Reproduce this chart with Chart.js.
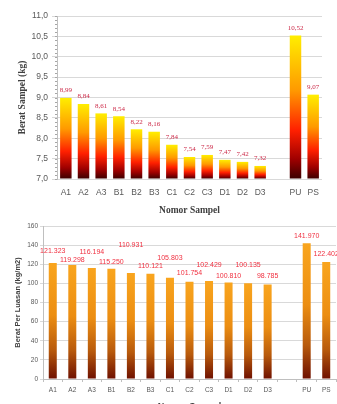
<!DOCTYPE html>
<html>
<head>
<meta charset="utf-8">
<script src="https://cdn.jsdelivr.net/npm/chart.js@4/dist/chart.umd.min.js"></script>
<style>
  html, body { margin: 0; padding: 0; background: #fff; width: 337px; height: 404px; overflow: hidden; }
  .box { position: relative; width: 337px; }
</style>
</head>
<body>
<div class="box" style="height:216px"><canvas id="weight-chart"></canvas></div>
<div class="box" style="height:200px"><canvas id="area-chart"></canvas></div>
<script>
/* ---------- data ---------- */
const samples = ['A1', 'A2', 'A3', 'B1', 'B2', 'B3', 'C1', 'C2', 'C3', 'D1', 'D2', 'D3', '', 'PU', 'PS'];
const weightKg = [8.99, 8.84, 8.61, 8.54, 8.22, 8.16, 7.84, 7.54, 7.59, 7.47, 7.42, 7.32, null, 10.52, 9.07];
const weightPerArea = [121.323, 119.298, 116.194, 115.250, 110.931, 110.121, 105.803, 101.754, 102.429, 100.810, 100.135, 98.785, null, 141.970, 122.402];

// label lift above each bar in the lower chart (px), the labels are staggered there
const areaLabelLift = [12, 4.5, 16, 7, 28, 8, 20, 9, 16, 7, 18, 8, 0, 7, 8];

const GRID = '#d9d9d9';
const TICK = '#595959';
const TITLE = '#404040';

// per-bar vertical gradient
function barGradient(stops) {
  return (ctx) => {
    const chart = ctx.chart;
    const area = chart.chartArea;
    if (!area || ctx.raw == null) return stops[0][1];
    const top = chart.scales.y.getPixelForValue(ctx.raw);
    const g = chart.ctx.createLinearGradient(0, top, 0, area.bottom);
    stops.forEach(([p, c]) => g.addColorStop(p, c));
    return g;
  };
}

// value labels drawn over the bars
function labelPlugin(cfg) {
  return {
    id: 'barLabels',
    afterDatasetsDraw(chart) {
      const { ctx } = chart;
      const meta = chart.getDatasetMeta(0);
      const values = chart.data.datasets[0].data;
      ctx.save();
      ctx.fillStyle = cfg.color;
      ctx.font = cfg.font;
      ctx.textAlign = 'center';
      ctx.textBaseline = 'middle';
      meta.data.forEach((bar, i) => {
        if (values[i] == null) return;
        const lift = Array.isArray(cfg.lift) ? cfg.lift[i] : cfg.lift;
        ctx.fillText(cfg.format(values[i]), bar.x, bar.y - lift);
      });
      ctx.restore();
    }
  };
}

// little minor ticks along the y axis of the top chart
const minorTicks = {
  id: 'minorTicks',
  afterDraw(chart) {
    const y = chart.scales.y;
    const { ctx } = chart;
    const x0 = chart.chartArea.left;
    ctx.save();
    ctx.strokeStyle = '#a6a6a6';
    ctx.lineWidth = 1;
    for (let v = y.min; v <= y.max + 1e-9; v += 0.1) {
      const py = Math.round(y.getPixelForValue(v)) + 0.5;
      ctx.beginPath();
      ctx.moveTo(x0 - 2, py);
      ctx.lineTo(x0, py);
      ctx.stroke();
    }
    ctx.restore();
  }
};

const comma = (v, d) => v.toFixed(d).replace('.', ',');

/* ---------- top chart: Berat Sampel ---------- */
new Chart(document.getElementById('weight-chart'), {
  type: 'bar',
  data: {
    labels: samples,
    datasets: [{
      data: weightKg,
      base: 7,
      backgroundColor: barGradient([
        [0, '#ffee00'], [0.38, '#ff9a00'], [0.66, '#ff2000'], [0.86, '#a00000'], [1, '#3a0000']
      ]),
      borderWidth: 0,
      categoryPercentage: 1,
      barPercentage: 0.65,
    }]
  },
  options: {
    responsive: true,
    maintainAspectRatio: false,
    animation: false,
    events: [],
    layout: { padding: { top: 16, right: 15, left: 0, bottom: 0 } },
    plugins: { legend: { display: false }, tooltip: { enabled: false } },
    scales: {
      x: {
        afterFit: (s) => { s.height = 37; },
        grid: { display: false, drawTicks: false },
        border: { display: false },
        ticks: { color: TICK, font: { family: 'Liberation Sans', size: 8.5 }, padding: 9, autoSkip: false, maxRotation: 0 },
        title: {
          display: true, text: 'Nomor Sampel', color: TITLE,
          font: { family: 'Liberation Serif', size: 9.5, weight: 'bold' },
          padding: { top: 0, bottom: 0 }
        }
      },
      y: {
        min: 7, max: 11,
        afterFit: (s) => { s.width = 57; },
        grid: { color: GRID, tickLength: 5, tickColor: GRID },
        border: { display: true, color: '#bfbfbf' },
        ticks: { stepSize: 0.5, color: TICK, font: { family: 'Liberation Sans', size: 8.5 }, padding: 4,
                 callback: (v) => comma(v, 1) },
        title: {
          display: true, text: 'Berat Sampel (kg)', color: TITLE,
          font: { family: 'Liberation Serif', size: 9.5, weight: 'bold' },
          padding: { top: 17, bottom: 0 }
        }
      }
    }
  },
  plugins: [labelPlugin({ color: '#cc2a48', font: '7px "Liberation Serif"', lift: 7.5, format: (v) => comma(v, 2) }), minorTicks]
});

/* ---------- bottom chart: Berat Per Luasan ---------- */
new Chart(document.getElementById('area-chart'), {
  type: 'bar',
  data: {
    labels: samples,
    datasets: [{
      data: weightPerArea,
      backgroundColor: barGradient([
        [0, '#f9a51e'], [0.45, '#ec8e12'], [0.75, '#b85a0c'], [1, '#6e1000']
      ]),
      borderWidth: 0,
      categoryPercentage: 1,
      barPercentage: 0.41,
    }]
  },
  options: {
    responsive: true,
    maintainAspectRatio: false,
    animation: false,
    events: [],
    layout: { padding: { top: 10, right: 1, left: 0, bottom: 0 } },
    plugins: { legend: { display: false }, tooltip: { enabled: false } },
    scales: {
      x: {
        afterFit: (s) => { s.height = 37; },
        grid: { display: true, drawOnChartArea: false, drawTicks: true, tickLength: 3, color: '#bfbfbf', offset: true },
        border: { display: true, color: '#bfbfbf' },
        ticks: { color: TICK, font: { family: 'Liberation Sans', size: 6.5 }, padding: 4, autoSkip: false, maxRotation: 0 },
        title: {
          display: true, text: 'Nomor Sampel', color: TITLE,
          font: { family: 'Liberation Sans', size: 9, weight: 'bold' },
          padding: { top: 0, bottom: 4 }
        }
      },
      y: {
        min: 0, max: 160,
        afterFit: (s) => { s.width = 43; },
        grid: { color: GRID, tickLength: 3, tickColor: GRID },
        border: { display: true, color: '#bfbfbf' },
        ticks: { stepSize: 20, color: TICK, font: { family: 'Liberation Sans', size: 6.5 }, padding: 2 },
        title: {
          display: true, text: 'Berat Per Luasan (kg/m2)', color: TITLE,
          font: { family: 'Liberation Sans', size: 7.5, weight: 'bold' },
          padding: { top: 13, bottom: 0 }
        }
      }
    }
  },
  plugins: [labelPlugin({ color: '#f03040', font: '7px "Liberation Sans"', lift: areaLabelLift, format: (v) => v.toFixed(3) })]
});
</script>
</body>
</html>
